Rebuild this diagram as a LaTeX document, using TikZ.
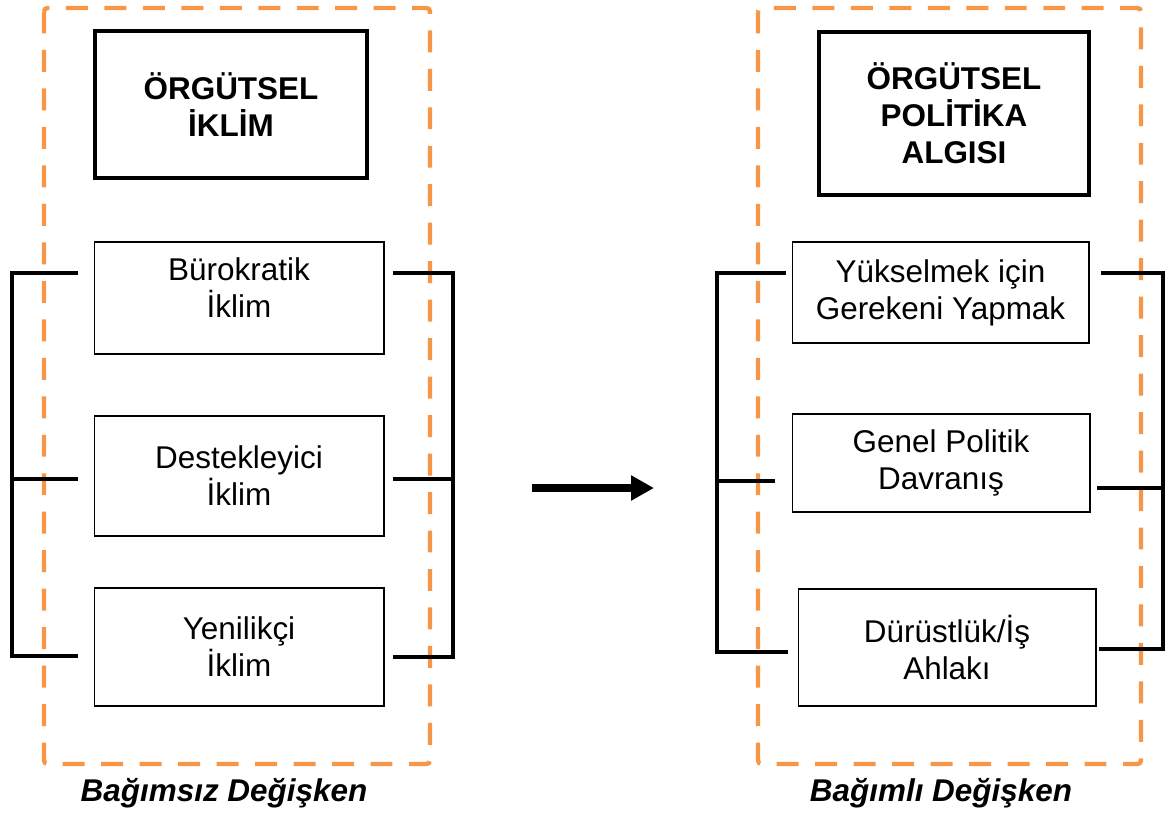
\documentclass[tikz,border=0pt]{standalone}
\usepackage{fontspec}
\setmainfont{Liberation Sans}
\usepackage{tikz}
\usetikzlibrary{positioning,arrows.meta}
\usepackage{xcolor}
\definecolor{dashorange}{RGB}{247,150,70}

\begin{document}
\begin{tikzpicture}[x=0.02cm, y=-0.02cm,
    every node/.style={font=\fontsize{17.9pt}{21pt}\selectfont, align=center},
    titlebox/.style={draw, line width=2.3pt, font=\fontsize{17.9pt}{21pt}\selectfont\bfseries},
    itembox/.style={draw, line width=0.6pt},
    groupbox/.style={draw=dashorange, line width=2.5pt, dash pattern=on 12.5pt off 9.4pt, rounded corners=2pt},
    bracket/.style={line width=2.6pt, line cap=rect},
    stub/.style={line width=1.9pt},
    caption/.style={font=\fontsize{17.9pt}{21pt}\selectfont\bfseries\itshape}]
            \useasboundingbox (0,0) rectangle (1167,816);

            % Groups
            \draw[groupbox] (44,8) rectangle (430,764);
            \draw[groupbox] (758,8) rectangle (1141,764);

            % Left side
            \node[titlebox, minimum width=5.44cm, minimum height=2.94cm] (climate) at (231,104.5) {ÖRGÜTSEL\\İKLİM};
            \node[itembox, minimum width=5.8cm, minimum height=2.24cm, text depth=0.4cm] (bureau) at (239,298) {Bürokratik\\İklim};
            \node[itembox, minimum width=5.8cm, minimum height=2.4cm] (support) at (239,476) {Destekleyici\\İklim};
            \node[itembox, minimum width=5.8cm, minimum height=2.36cm] (innov) at (239,647) {Yenilikçi\\İklim};

            % Left side - brackets
            \draw[bracket] (12,273) -- (12,656);
            \draw[stub] (12,273) -- (78,273);
            \draw[stub] (12,479) -- (78,479);
            \draw[stub] (12,656) -- (78,656);

            \draw[bracket] (453,273) -- (453,657);
            \draw[stub] (393,273) -- (453,273);
            \draw[stub] (393,479) -- (453,479);
            \draw[stub] (393,657) -- (453,657);

            % Right side
            \node[titlebox, minimum width=5.4cm, minimum height=3.26cm] (politics) at (954,113.5) {ÖRGÜTSEL\\POLİTİKA\\ALGISI};
            \node[itembox, minimum width=5.94cm, minimum height=2.02cm] (advance) at (940.5,292.5) {Yükselmek için\\Gerekeni Yapmak};
            \node[itembox, minimum width=5.96cm, minimum height=1.96cm] (general) at (941,463) {Genel Politik\\Davranış};
            \node[itembox, minimum width=5.96cm, minimum height=2.34cm] (ethics) at (947,647.5) {Dürüstlük/İş\\Ahlakı};

            % Right side - brackets
            \draw[bracket] (717,273) -- (717,652);
            \draw[stub] (717,273) -- (786,273);
            \draw[stub] (717,481) -- (775,481);
            \draw[stub] (717,652) -- (788,652);

            \draw[bracket] (1163,273) -- (1163,649);
            \draw[stub] (1101,273) -- (1163,273);
            \draw[stub] (1097,488) -- (1163,488);
            \draw[stub] (1099,649) -- (1163,649);

            % Arrow
            \coordinate (arrtail) at (532,488);
            \coordinate (arrhead) at (654,488);
            \draw[line width=4pt, -{Triangle[length=13pt, width=13.5pt]}] (arrtail) -- (arrhead);

            % Captions
            \node[caption] (indeplabel) at (224,793) {Bağımsız Değişken};
            \node[caption] (deplabel) at (941,793) {Bağımlı Değişken};
        \end{tikzpicture}
\end{document}
